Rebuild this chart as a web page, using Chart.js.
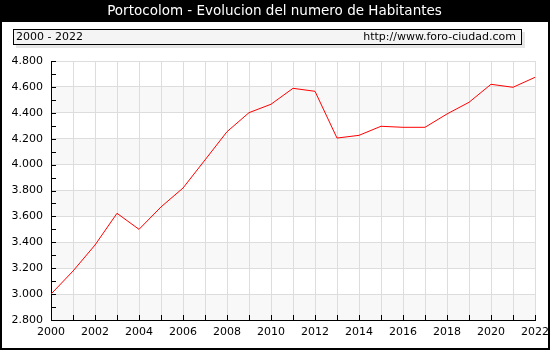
<!DOCTYPE html>
<html>
<head>
<meta charset="utf-8">
<script src="https://cdn.jsdelivr.net/npm/chart.js@4"></script>
<style>
  html, body { margin: 0; padding: 0; background: #fff; }
  #wrap { width: 550px; height: 350px; }
</style>
</head>
<body>
<div id="wrap"><canvas id="grafico" width="550" height="350"></canvas></div>
<script>
// --- datos ---
const titulo = 'Portocolom - Evolucion del numero de Habitantes';
const periodo = '2000 - 2022';
const fuente = 'http://www.foro-ciudad.com';

const anios = [2000, 2001, 2002, 2003, 2004, 2005, 2006, 2007, 2008, 2009, 2010, 2011,
  2012, 2013, 2014, 2015, 2016, 2017, 2018, 2019, 2020, 2021, 2022];
const habitantes = [3000, 3178, 3379, 3624, 3500, 3673, 3819, 4036, 4254, 4401, 4466, 4589,
  4566, 4205, 4226, 4296, 4288, 4288, 4391, 4481, 4620, 4597, 4674];
const etiquetasY = [2800, 3000, 3200, 3400, 3600, 3800, 4000, 4200, 4400, 4600, 4800];
const etiquetasX = [2000, 2002, 2004, 2006, 2008, 2010, 2012, 2014, 2016, 2018, 2020, 2022];

const FUENTE = 'DejaVu Sans';

function formatoMiles(v) {
  return String(v).replace(/\B(?=(\d{3})+$)/g, '.');
}

// fondo, bandas, marco, titulo y recuadro de leyenda
const decoracion = {
  id: 'decoracion',
  beforeDraw(chart) {
    const { ctx, chartArea: a, scales: { y } } = chart;
    ctx.save();
    ctx.fillStyle = '#fff';
    ctx.fillRect(0, 0, chart.width, chart.height);
    // bandas alternas
    ctx.fillStyle = '#f8f8f8';
    for (let i = 0; i < etiquetasY.length - 1; i += 2) {
      const y1 = y.getPixelForValue(etiquetasY[i]);
      const y2 = y.getPixelForValue(etiquetasY[i + 1]);
      ctx.fillRect(a.left, y2, a.right - a.left, y1 - y2);
    }
    ctx.restore();
  },
  afterDraw(chart) {
    const { ctx, chartArea: a, scales: { x, y } } = chart;
    ctx.save();
    // marcas de eje hacia dentro
    ctx.strokeStyle = '#000';
    ctx.lineWidth = 1;
    ctx.beginPath();
    for (let v = etiquetasY[0]; v <= etiquetasY[etiquetasY.length - 1]; v += 100) {
      const py = Math.round(y.getPixelForValue(v)) + 0.5;
      ctx.moveTo(a.left, py);
      ctx.lineTo(a.left + 5, py);
    }
    anios.forEach(an => {
      const px = Math.round(x.getPixelForValue(an)) + 0.5;
      ctx.moveTo(px, a.bottom);
      ctx.lineTo(px, a.bottom - 5);
    });
    ctx.stroke();

    // marco exterior
    ctx.fillStyle = '#000';
    ctx.fillRect(0, 0, chart.width, 22);
    ctx.fillRect(0, 0, 2, chart.height);
    ctx.fillRect(chart.width - 2, 0, 2, chart.height);
    ctx.fillRect(0, chart.height - 2, chart.width, 2);

    // titulo
    ctx.fillStyle = '#fff';
    ctx.font = '13.5px "' + FUENTE + '"';
    ctx.textAlign = 'center';
    ctx.textBaseline = 'middle';
    ctx.fillText(titulo, chart.width / 2 - 0.5, 11.5);

    // recuadro periodo / fuente
    ctx.fillStyle = '#e6e6e6';
    ctx.fillRect(16, 32, 509, 16);
    ctx.fillStyle = '#f4f4f4';
    ctx.fillRect(13, 29, 509, 16);
    ctx.strokeStyle = '#000';
    ctx.strokeRect(13.5, 29.5, 508, 15);
    ctx.fillStyle = '#000';
    ctx.font = '11px "' + FUENTE + '"';
    ctx.textAlign = 'left';
    ctx.fillText(periodo, 16, 37.5);
    ctx.textAlign = 'right';
    ctx.fillText(fuente, 516, 37.5);
    ctx.restore();
  }
};

new Chart(document.getElementById('grafico'), {
  type: 'line',
  data: {
    labels: anios,
    datasets: [{
      data: anios.map((an, i) => ({ x: an, y: habitantes[i] })),
      borderColor: '#ff0000',
      borderWidth: 1,
      pointRadius: 0,
      tension: 0,
      fill: false
    }]
  },
  options: {
    responsive: false,
    animation: false,
    layout: { padding: { top: 61, right: 15, left: 0, bottom: 0 } },
    plugins: {
      legend: { display: false },
      tooltip: { enabled: false },
      title: { display: false }
    },
    scales: {
      x: {
        type: 'linear',
        min: anios[0],
        max: anios[anios.length - 1],
        afterFit: s => { s.height = 30; s.paddingLeft = 0; s.paddingRight = 0; },
        afterBuildTicks: s => { s.ticks = anios.map(v => ({ value: v })); },
        ticks: {
          autoSkip: false,
          maxRotation: 0,
          padding: 6,
          color: '#000',
          font: { family: FUENTE, size: 11 },
          callback: v => etiquetasX.includes(v) ? String(v) : ''
        },
        grid: { color: '#dddddd', drawTicks: false },
        border: { display: true, color: '#000', width: 1 }
      },
      y: {
        min: etiquetasY[0],
        max: etiquetasY[etiquetasY.length - 1],
        afterFit: s => { s.width = 51; s.paddingTop = 0; s.paddingBottom = 0; },
        afterBuildTicks: s => { s.ticks = etiquetasY.map(v => ({ value: v })); },
        ticks: {
          padding: 8,
          color: '#000',
          font: { family: FUENTE, size: 11 },
          callback: v => formatoMiles(v)
        },
        grid: { color: '#dddddd', drawTicks: false },
        border: { display: true, color: '#000', width: 1 }
      }
    }
  },
  plugins: [decoracion]
});
</script>
</body>
</html>
